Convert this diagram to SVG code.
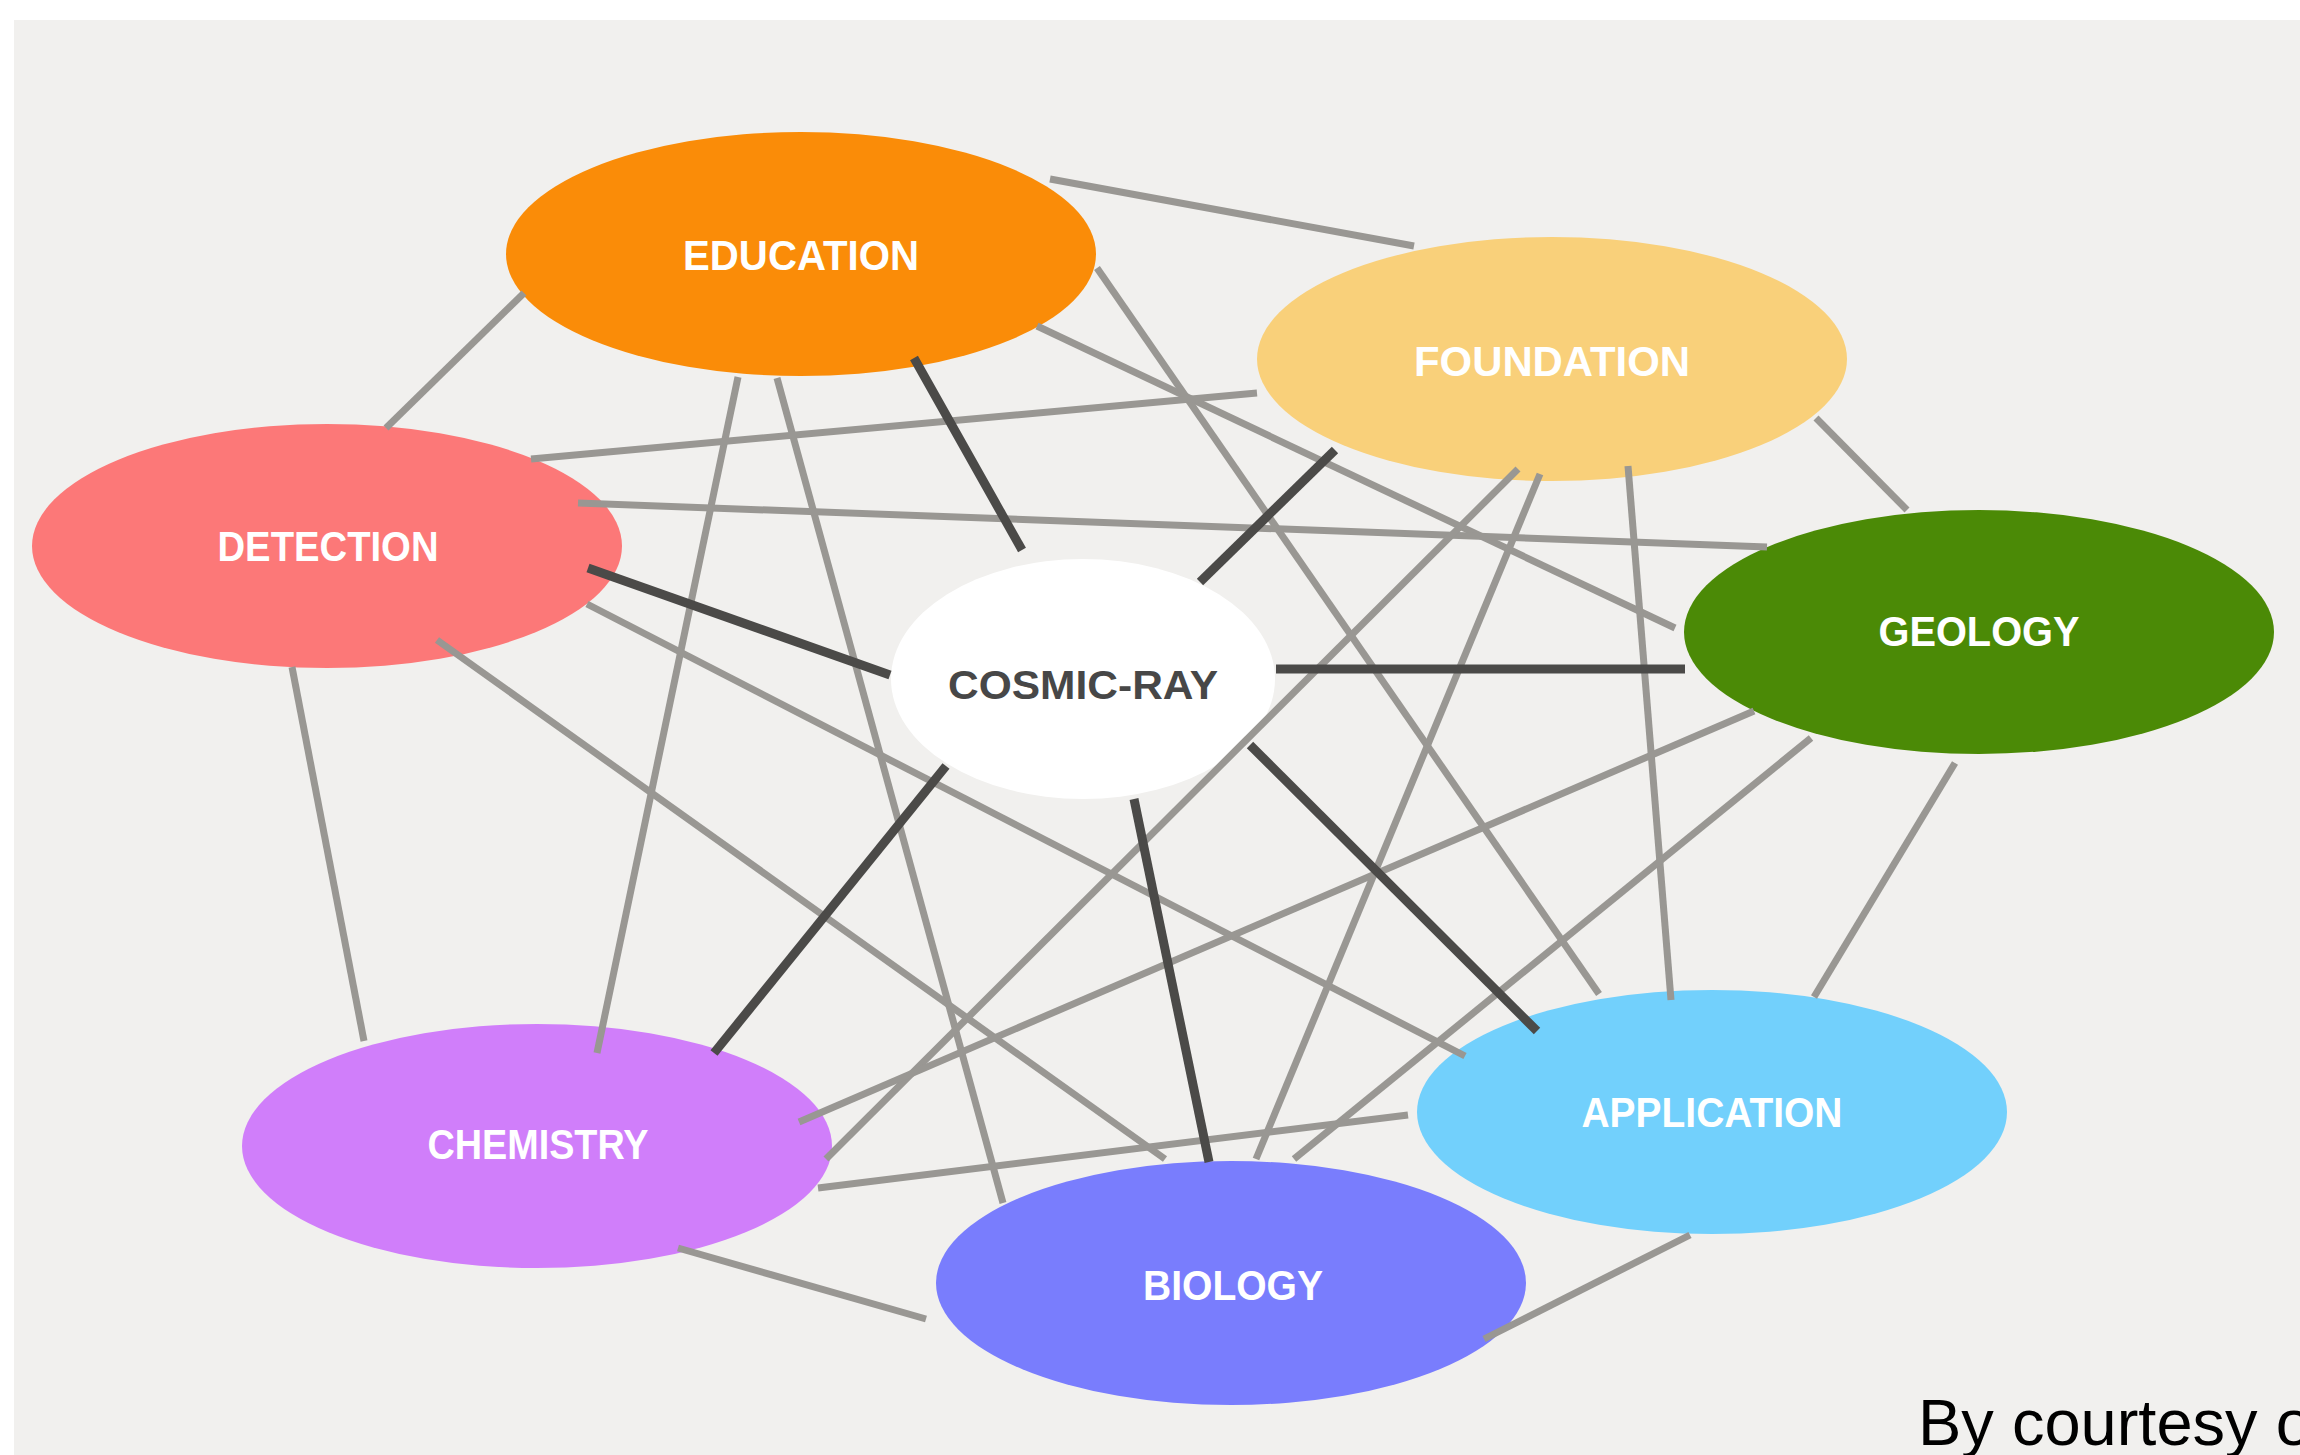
<svg xmlns="http://www.w3.org/2000/svg" width="2300" height="1455" viewBox="0 0 2300 1455">
<style>
.lt{stroke:#999793;stroke-width:7;stroke-linecap:butt;fill:none}
.dk{stroke:#4b4a48;stroke-width:9;stroke-linecap:butt;fill:none}
.lbl{font-family:"Liberation Sans",Arial,sans-serif;font-weight:bold;font-size:42px;fill:#ffffff;text-anchor:middle}
.core{font-family:"Liberation Sans",Arial,sans-serif;font-weight:bold;font-size:41px;fill:#474747;text-anchor:middle}
.credit{font-family:"Liberation Sans",Arial,sans-serif;font-size:65px;fill:#000000}
</style>
<rect x="0" y="0" width="2300" height="1455" fill="#ffffff"/>
<rect x="14" y="20" width="2286" height="1435" fill="#f1f0ee"/>
<g id="node-education"><ellipse cx="801" cy="254" rx="295" ry="122" fill="#fa8c08"/><text class="lbl" x="801" y="270" textLength="236" lengthAdjust="spacingAndGlyphs">EDUCATION</text></g>
<g id="node-foundation"><ellipse cx="1552" cy="359" rx="295" ry="122" fill="#f9d07a"/><text class="lbl" x="1552" y="376" textLength="276" lengthAdjust="spacingAndGlyphs">FOUNDATION</text></g>
<g id="node-detection"><ellipse cx="327" cy="546" rx="295" ry="122" fill="#fc7878"/><text class="lbl" x="328" y="561" textLength="221" lengthAdjust="spacingAndGlyphs">DETECTION</text></g>
<g id="node-geology"><ellipse cx="1979" cy="632" rx="295" ry="122" fill="#4b8a06"/><text class="lbl" x="1979" y="646" textLength="201" lengthAdjust="spacingAndGlyphs">GEOLOGY</text></g>
<g id="node-cosmic-ray"><ellipse cx="1083" cy="679" rx="192" ry="120" fill="#ffffff"/><text class="core" x="1083" y="699" textLength="270" lengthAdjust="spacingAndGlyphs">COSMIC-RAY</text></g>
<g id="node-chemistry"><ellipse cx="537" cy="1146" rx="295" ry="122" fill="#d07efa"/><text class="lbl" x="538" y="1159" textLength="221" lengthAdjust="spacingAndGlyphs">CHEMISTRY</text></g>
<g id="node-application"><ellipse cx="1712" cy="1112" rx="295" ry="122" fill="#72d0fc"/><text class="lbl" x="1712" y="1127" textLength="261" lengthAdjust="spacingAndGlyphs">APPLICATION</text></g>
<g id="node-biology"><ellipse cx="1231" cy="1283" rx="295" ry="122" fill="#797dfd"/><text class="lbl" x="1233" y="1300" textLength="180" lengthAdjust="spacingAndGlyphs">BIOLOGY</text></g>
<g id="connectors">
<line class="lt" x1="524" y1="293" x2="386" y2="428"/>
<line class="lt" x1="1050" y1="179" x2="1414" y2="246"/>
<line class="lt" x1="1037" y1="326" x2="1675" y2="628"/>
<line class="lt" x1="1097" y1="268" x2="1599" y2="994"/>
<line class="lt" x1="738" y1="377" x2="597" y2="1053"/>
<line class="lt" x1="777" y1="378" x2="1003" y2="1203"/>
<line class="lt" x1="531" y1="459" x2="1257" y2="393"/>
<line class="lt" x1="578" y1="503" x2="1767" y2="547"/>
<line class="lt" x1="292" y1="667" x2="364" y2="1041"/>
<line class="lt" x1="437" y1="640" x2="1165" y2="1159"/>
<line class="lt" x1="587" y1="604" x2="1465" y2="1056"/>
<line class="lt" x1="1816" y1="418" x2="1907" y2="510"/>
<line class="lt" x1="1518" y1="469" x2="826" y2="1159"/>
<line class="lt" x1="1540" y1="474" x2="1256" y2="1159"/>
<line class="lt" x1="1628" y1="466" x2="1671" y2="1000"/>
<line class="lt" x1="1754" y1="711" x2="799" y2="1122"/>
<line class="lt" x1="1811" y1="738" x2="1294" y2="1159"/>
<line class="lt" x1="1955" y1="763" x2="1814" y2="997"/>
<line class="lt" x1="818" y1="1188" x2="1408" y2="1115"/>
<line class="lt" x1="678" y1="1248" x2="926" y2="1319"/>
<line class="lt" x1="1484" y1="1339" x2="1690" y2="1235"/>
<line class="dk" x1="914" y1="358" x2="1022" y2="550"/>
<line class="dk" x1="1335" y1="450" x2="1200" y2="582"/>
<line class="dk" x1="588" y1="568" x2="890" y2="675"/>
<line class="dk" x1="1276" y1="669" x2="1685" y2="669"/>
<line class="dk" x1="714" y1="1053" x2="946" y2="766"/>
<line class="dk" x1="1134" y1="799" x2="1209" y2="1162"/>
<line class="dk" x1="1250" y1="745" x2="1537" y2="1031"/>
</g>
<text class="credit" x="1918" y="1445">By courtesy of</text>
</svg>
